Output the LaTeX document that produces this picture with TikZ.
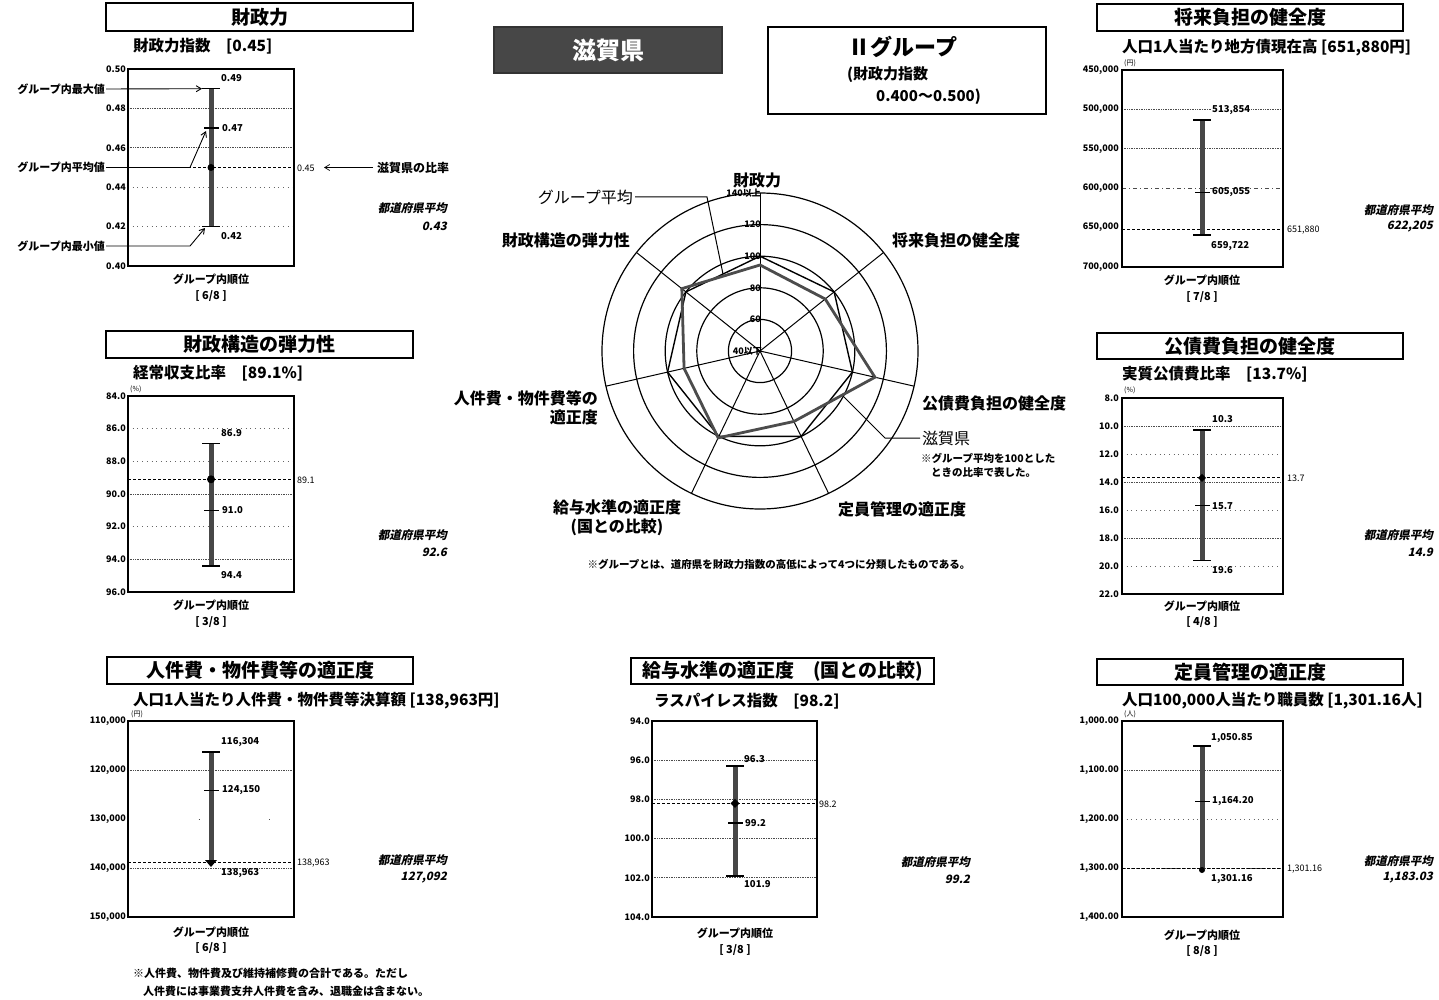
\documentclass[tikz,border=0pt]{standalone}
\usepackage{fontspec}
\setmainfont{Noto Sans CJK JP}
\newfontfamily\jpslant{Noto Sans CJK JP}[FakeSlant=0.22]
\usetikzlibrary{arrows.meta}
\newcommand\jfs[1]{\fontsize{#1}{#1}\selectfont}
\begin{document}
\begin{tikzpicture}[x=1pt,y=-1pt,
  ttlbox/.style={draw, line width=1.3pt, inner sep=0pt, font=\jfs{19}\bfseries},
  subttl/.style={anchor=west, inner sep=0pt, font=\jfs{15.5}\bfseries},
  ytick/.style={anchor=east, inner sep=1pt, font=\jfs{9}\bfseries},
  vlab/.style={anchor=west, inner sep=0pt, font=\jfs{9.5}\bfseries},
  frm/.style={draw, line width=1.6pt},
  gridl/.style={densely dotted, line width=0.7pt, black!70},
  grids/.style={loosely dotted, line width=0.7pt, black!60},
  shigal/.style={dash pattern=on 3pt off 2pt, line width=0.9pt},
  rbar/.style={line width=5pt, black!72},
  capl/.style={line width=1.6pt},
  meanl/.style={line width=1.2pt},
  avgt/.style={anchor=east, inner sep=0pt, font=\jfs{11.5}\jpslant\bfseries},
  rank/.style={inner sep=0pt, font=\jfs{11}\bfseries},
  unitl/.style={anchor=south west, inner sep=0pt, font=\jfs{7}},
  annl/.style={anchor=east, inner sep=1pt, font=\jfs{11}\bfseries},
  rtick/.style={anchor=east, inner sep=1pt, font=\jfs{9}\bfseries},
  rlab/.style={inner sep=0pt, font=\jfs{16}\bfseries},
  tipb/.style={-{Straight Barb[length=5pt,width=6pt]}, line width=0.9pt}
]
\fill[white] (0,0) rectangle (1439,1000);
\useasboundingbox (0,0) rectangle (1439,1000);

% ================= Header =================
\node[draw=black!80, line width=1.2pt, fill=black!72, minimum width=228pt, minimum height=46pt, inner sep=0pt,
      text=white, font=\jfs{24}\bfseries] (hpref) at (608,50) {滋賀県};
\node[draw, line width=1.2pt, minimum width=278pt, minimum height=87pt, inner sep=0pt] (hgrp) at (907,70.5) {};
\node[inner sep=0pt, font=\jfs{22}\bfseries] (hgrpt) at (903,47) {Ⅱグループ};
\node[anchor=west, inner sep=0pt, font=\jfs{15}\bfseries] (hgrp1) at (847,75) {(財政力指数};
\node[anchor=west, inner sep=0pt, font=\jfs{15}\bfseries] (hgrp2) at (876,97) {0.400～0.500)};

% ================= Panel A : 財政力 =================
\node[ttlbox, minimum width=307pt, minimum height=28pt] (tA) at (259.5,17) {財政力};
\node[subttl] (sA) at (133,46) {財政力指数　[0.45]};
\draw[gridl] (128,108.4) -- (294,108.4);
\draw[gridl] (128,147.8) -- (294,147.8);
\draw[grids] (128,187.2) -- (294,187.2);
\draw[grids] (128,226.6) -- (294,226.6);
\draw[shigal] (128,167.5) -- (294,167.5);
\draw[rbar] (211,88.7) -- (211,226.6);
\draw[capl] (202,88.7) -- (220,88.7);
\draw[capl] (202,226.6) -- (220,226.6);
\draw[meanl] (204,128.1) -- (219,128.1);
\fill (211,167.5) circle (3.5pt);
\draw[frm] (128,69) rectangle (294,266);
\node[ytick] (yA0) at (127,69) {0.50};
\node[ytick] (yA1) at (127,108.4) {0.48};
\node[ytick] (yA2) at (127,147.8) {0.46};
\node[ytick] (yA3) at (127,187.2) {0.44};
\node[ytick] (yA4) at (127,226.6) {0.42};
\node[ytick] (yA5) at (127,266) {0.40};
\node[vlab] (vA1) at (221,78) {0.49};
\node[vlab] (vA2) at (222,128) {0.47};
\node[vlab] (vA3) at (221,236) {0.42};
\node[anchor=west, inner sep=0pt, font=\jfs{9}] (vA4) at (297,168) {0.45};
\node[annl] (gmax) at (106,89) {グループ内最大値};
\node[annl] (gave) at (106,167.5) {グループ内平均値};
\node[annl] (gmin) at (106,246) {グループ内最小値};
\coordinate (pAmax) at (202,88.7);
\coordinate (pAave) at (206,131);
\coordinate (pAmin) at (205,228);
\draw[tipb] (gmax.east) -- (pAmax);
\draw[tipb] (gave.east) -- (190,167.5) -- (pAave);
\draw[tipb] (gmin.east) -- (190,246) -- (pAmin);
\node[anchor=west, inner sep=0pt, font=\jfs{12}\bfseries] (shr) at (377,167.5) {滋賀県の比率};
\coordinate (pAshr) at (324,167.5);
\draw[tipb, line width=0.7pt] (shr.west) ++(-4,0) -- (pAshr);
\node[avgt] (aA1) at (447,208) {都道府県平均};
\node[avgt] (aA2) at (447,226) {0.43};
\node[rank] (rA1) at (211,279) {グループ内順位};
\node[rank] (rA2) at (211,296) {[ 6/8 ]};

% ================= Panel B : 財政構造の弾力性 =================
\node[ttlbox, minimum width=307pt, minimum height=27pt] (tB) at (259.5,344.5) {財政構造の弾力性};
\node[subttl] (sB) at (133,373) {経常収支比率　[89.1\%]};
\node[unitl] (uB) at (130,393) {(\%)};
\draw[grids] (128,428.7) -- (294,428.7);
\draw[grids] (128,461.3) -- (294,461.3);
\draw[gridl] (128,494) -- (294,494);
\draw[grids] (128,526.7) -- (294,526.7);
\draw[gridl] (128,559.3) -- (294,559.3);
\draw[shigal] (128,479.3) -- (294,479.3);
\draw[rbar] (211,443.4) -- (211,565.9);
\draw[capl] (202,443.4) -- (220,443.4);
\draw[capl] (202,565.9) -- (220,565.9);
\draw[meanl] (204,510.3) -- (219,510.3);
\fill (211,479.3) circle (4pt);
\draw[frm] (128,396) rectangle (294,592);
\node[ytick] (yB0) at (127,396) {84.0};
\node[ytick] (yB1) at (127,428.7) {86.0};
\node[ytick] (yB2) at (127,461.3) {88.0};
\node[ytick] (yB3) at (127,494) {90.0};
\node[ytick] (yB4) at (127,526.7) {92.0};
\node[ytick] (yB5) at (127,559.3) {94.0};
\node[ytick] (yB6) at (127,592) {96.0};
\node[vlab] (vB1) at (221,433) {86.9};
\node[vlab] (vB2) at (222,510) {91.0};
\node[vlab] (vB3) at (221,575) {94.4};
\node[anchor=west, inner sep=0pt, font=\jfs{9}] (vB4) at (297,480) {89.1};
\node[avgt] (aB1) at (447,535) {都道府県平均};
\node[avgt] (aB2) at (447,552) {92.6};
\node[rank] (rB1) at (211,605) {グループ内順位};
\node[rank] (rB2) at (211,622) {[ 3/8 ]};

% ================= Panel C : 人件費・物件費等の適正度 =================
\node[ttlbox, minimum width=306pt, minimum height=27pt] (tC) at (260,670.5) {人件費・物件費等の適正度};
\node[subttl] (sC) at (133,701) {人口1人当たり人件費・物件費等決算額 [138,963円]};
\node[unitl] (uC) at (131,718) {(円)};
\draw[gridl] (128,770) -- (294,770);
\draw[gridl, dash pattern=on 0.7pt off 70pt] (128,819) -- (294,819);
\draw[gridl] (128,868) -- (294,868);
\draw[shigal] (128,862.9) -- (294,862.9);
\draw[rbar] (211,751.9) -- (211,862.9);
\draw[capl] (202,751.9) -- (220,751.9);
\draw[meanl] (204,790.3) -- (219,790.3);
\fill (205,860) -- (217,860) -- (211,867) -- cycle;
\draw[frm] (128,721) rectangle (294,917);
\node[ytick] (yC0) at (127,721) {110,000};
\node[ytick] (yC1) at (127,770) {120,000};
\node[ytick] (yC2) at (127,819) {130,000};
\node[ytick] (yC3) at (127,868) {140,000};
\node[ytick] (yC4) at (127,917) {150,000};
\node[vlab] (vC1) at (221,742) {116,304};
\node[vlab] (vC2) at (222,790) {124,150};
\node[vlab] (vC3) at (221,873) {138,963};
\node[anchor=west, inner sep=0pt, font=\jfs{9}] (vC4) at (297,863) {138,963};
\node[avgt] (aC1) at (447,860) {都道府県平均};
\node[avgt] (aC2) at (447,878) {127,092};
\node[rank] (rC1) at (211,932) {グループ内順位};
\node[rank] (rC2) at (211,948) {[ 6/8 ]};
\node[anchor=west, inner sep=0pt, font=\jfs{11}\bfseries] (nC1) at (133,973) {※人件費、物件費及び維持補修費の合計である。ただし};
\node[anchor=west, inner sep=0pt, font=\jfs{11}\bfseries] (nC2) at (143,991) {人件費には事業費支弁人件費を含み、退職金は含まない。};

% ================= Panel D : 給与水準の適正度 =================
\node[ttlbox, minimum width=303pt, minimum height=26pt] (tD) at (782.5,671) {給与水準の適正度　(国との比較)};
\node[subttl] (sD) at (654,701) {ラスパイレス指数　[98.2]};
\draw[gridl] (652,760.2) -- (817,760.2);
\draw[gridl] (652,799.4) -- (817,799.4);
\draw[gridl] (652,838.6) -- (817,838.6);
\draw[gridl] (652,877.8) -- (817,877.8);
\draw[shigal] (652,803.3) -- (817,803.3);
\draw[rbar] (735,766.1) -- (735,875.8);
\draw[capl] (726,766.1) -- (744,766.1);
\draw[capl] (726,875.8) -- (744,875.8);
\draw[meanl] (728,822.9) -- (743,822.9);
\fill (735,798.8) -- (739.5,803.3) -- (735,807.8) -- (730.5,803.3) -- cycle;
\draw[frm] (652,721) rectangle (817,917);
\node[ytick] (yD0) at (651,721) {94.0};
\node[ytick] (yD1) at (651,760.2) {96.0};
\node[ytick] (yD2) at (651,799.4) {98.0};
\node[ytick] (yD3) at (651,838.6) {100.0};
\node[ytick] (yD4) at (651,877.8) {102.0};
\node[ytick] (yD5) at (651,917) {104.0};
\node[vlab] (vD1) at (744,759) {96.3};
\node[vlab] (vD2) at (745,823) {99.2};
\node[vlab] (vD3) at (744,884) {101.9};
\node[anchor=west, inner sep=0pt, font=\jfs{9}] (vD4) at (819,804) {98.2};
\node[avgt] (aD1) at (970,862) {都道府県平均};
\node[avgt] (aD2) at (970,879) {99.2};
\node[rank] (rD1) at (735,933) {グループ内順位};
\node[rank] (rD2) at (735,950) {[ 3/8 ]};

% ================= Panel E : 将来負担の健全度 =================
\node[ttlbox, minimum width=306pt, minimum height=27pt] (tE) at (1250,17.5) {将来負担の健全度};
\node[subttl] (sE) at (1122,48) {人口1人当たり地方債現在高 [651,880円]};
\node[unitl] (uE) at (1124,67) {(円)};
\draw[gridl] (1122,109.4) -- (1283,109.4);
\draw[gridl] (1122,148.8) -- (1283,148.8);
\draw[gridl, dash pattern=on 4pt off 3pt on 1pt off 3pt] (1122,188.2) -- (1283,188.2);
\draw[shigal] (1122,229.1) -- (1283,229.1);
\draw[rbar] (1202,120.3) -- (1202,235.3);
\draw[capl] (1193,120.3) -- (1211,120.3);
\draw[capl] (1193,235.3) -- (1211,235.3);
\draw[meanl] (1195,192.2) -- (1210,192.2);
\draw[frm] (1122,70) rectangle (1283,267);
\node[ytick] (yE0) at (1120,70) {450,000};
\node[ytick] (yE1) at (1120,109.4) {500,000};
\node[ytick] (yE2) at (1120,148.8) {550,000};
\node[ytick] (yE3) at (1120,188.2) {600,000};
\node[ytick] (yE4) at (1120,227.6) {650,000};
\node[ytick] (yE5) at (1120,267) {700,000};
\node[vlab, fill=white, inner sep=1pt] (vE1) at (1211,110) {513,854};
\node[vlab] (vE2) at (1212,192) {605,055};
\node[vlab] (vE3) at (1211,246) {659,722};
\node[anchor=west, inner sep=0pt, font=\jfs{9}] (vE4) at (1287,230) {651,880};
\node[avgt] (aE1) at (1433,210) {都道府県平均};
\node[avgt] (aE2) at (1433,227) {622,205};
\node[rank] (rE1) at (1202,280) {グループ内順位};
\node[rank] (rE2) at (1202,297) {[ 7/8 ]};

% ================= Panel F : 公債費負担の健全度 =================
\node[ttlbox, minimum width=306pt, minimum height=26pt] (tF) at (1250,346) {公債費負担の健全度};
\node[subttl] (sF) at (1122,374) {実質公債費比率　[13.7\%]};
\node[unitl] (uF) at (1124,394) {(\%)};
\draw[gridl] (1122,426) -- (1283,426);
\draw[grids] (1122,454) -- (1283,454);
\draw[gridl] (1122,482) -- (1283,482);
\draw[grids] (1122,510) -- (1283,510);
\draw[gridl] (1122,538) -- (1283,538);
\draw[grids] (1122,566) -- (1283,566);
\draw[shigal] (1122,477.8) -- (1283,477.8);
\draw[rbar] (1202,430.2) -- (1202,560.4);
\draw[capl] (1193,430.2) -- (1211,430.2);
\draw[capl] (1193,560.4) -- (1211,560.4);
\draw[meanl] (1195,505.8) -- (1210,505.8);
\fill (1202,473.8) -- (1206,477.8) -- (1202,481.8) -- (1198,477.8) -- cycle;
\draw[frm] (1122,398) rectangle (1283,594);
\node[ytick] (yF0) at (1120,398) {8.0};
\node[ytick] (yF1) at (1120,426) {10.0};
\node[ytick] (yF2) at (1120,454) {12.0};
\node[ytick] (yF3) at (1120,482) {14.0};
\node[ytick] (yF4) at (1120,510) {16.0};
\node[ytick] (yF5) at (1120,538) {18.0};
\node[ytick] (yF6) at (1120,566) {20.0};
\node[ytick] (yF7) at (1120,594) {22.0};
\node[vlab] (vF1) at (1212,419) {10.3};
\node[vlab] (vF2) at (1212,506) {15.7};
\node[vlab] (vF3) at (1212,570) {19.6};
\node[anchor=west, inner sep=0pt, font=\jfs{9}] (vF4) at (1287,478) {13.7};
\node[avgt] (aF1) at (1433,535) {都道府県平均};
\node[avgt] (aF2) at (1433,552) {14.9};
\node[rank] (rF1) at (1202,606) {グループ内順位};
\node[rank] (rF2) at (1202,622) {[ 4/8 ]};

% ================= Panel G : 定員管理の適正度 =================
\node[ttlbox, minimum width=306pt, minimum height=26pt] (tG) at (1250,672) {定員管理の適正度};
\node[subttl] (sG) at (1122,701) {人口100,000人当たり職員数 [1,301.16人]};
\node[unitl] (uG) at (1124,718) {(人)};
\draw[gridl] (1122,770) -- (1283,770);
\draw[grids] (1122,819) -- (1283,819);
\draw[gridl] (1122,868) -- (1283,868);
\draw[shigal] (1122,868.6) -- (1283,868.6);
\draw[rbar] (1202,745.9) -- (1202,868.6);
\draw[capl] (1193,745.9) -- (1211,745.9);
\draw[meanl] (1195,801.5) -- (1210,801.5);
\fill (1202,870) circle (3pt);
\draw[frm] (1122,721) rectangle (1283,917);
\node[ytick] (yG0) at (1120,721) {1,000.00};
\node[ytick] (yG1) at (1120,770) {1,100.00};
\node[ytick] (yG2) at (1120,819) {1,200.00};
\node[ytick] (yG3) at (1120,868) {1,300.00};
\node[ytick] (yG4) at (1120,917) {1,400.00};
\node[vlab] (vG1) at (1211,738) {1,050.85};
\node[vlab] (vG2) at (1212,801) {1,164.20};
\node[vlab] (vG3) at (1211,879) {1,301.16};
\node[anchor=west, inner sep=0pt, font=\jfs{9}] (vG4) at (1287,869) {1,301.16};
\node[avgt] (aG1) at (1433,861) {都道府県平均};
\node[avgt] (aG2) at (1433,878) {1,183.03};
\node[rank] (rG1) at (1202,935) {グループ内順位};
\node[rank] (rG2) at (1202,951) {[ 8/8 ]};

% ================= Radar chart =================
\begin{scope}[shift={(760,351)}]
  \foreach \r in {31.6,63.2,94.8,126.4,158} \draw[line width=1.2pt] (0,0) circle (\r pt);
  \foreach \k in {0,...,6} \draw[line width=1pt] (0,0) -- ({-90+\k*360/7}:158);
  % group average (100)
  \draw[line width=1.4pt] (-90:94.8)
     \foreach \k in {1,...,6} { -- ({-90+\k*360/7}:94.8) } -- cycle;
  % Shiga
  \draw[line width=2.8pt, black!70] (-90:86)
     -- ({-90+1*360/7}:83.4) -- ({-90+2*360/7}:117.9) -- ({-90+3*360/7}:78.2)
     -- ({-90+4*360/7}:96.4) -- ({-90+5*360/7}:77.9) -- ({-90+6*360/7}:100) -- cycle;
  \node[rtick] (rt140) at (2,-158) {140以上};
  \node[rtick] (rt120) at (2,-126.4) {120};
  \node[rtick] (rt100) at (2,-94.8) {100};
  \node[rtick] (rt80) at (2,-63.2) {80};
  \node[rtick] (rt60) at (2,-31.6) {60};
  \node[rtick] (rt40) at (3,0) {40以下};
\end{scope}
\node[rlab] (rl1) at (757,180) {財政力};
\node[rlab, anchor=west] (rl2) at (892,240) {将来負担の健全度};
\node[rlab, anchor=west] (rl3) at (922,403) {公債費負担の健全度};
\node[rlab, anchor=west] (rl4) at (838,509) {定員管理の適正度};
\node[rlab, align=center] (rl5) at (617,518) {給与水準の適正度\\[3pt](国との比較)};
\node[rlab, align=right, anchor=east] (rl6) at (598,408) {人件費・物件費等の\\[3pt]適正度};
\node[rlab, anchor=east] (rl7) at (630,240) {財政構造の弾力性};
\node[rlab, anchor=east, font=\jfs{16}] (lgave) at (633,197) {グループ平均};
\coordinate (pgave) at (723,274);
\draw[line width=1pt] (lgave.east) ++(2,0) -- (707,197) -- (pgave);
\node[rlab, anchor=west, font=\jfs{16}] (lshiga) at (922,438) {滋賀県};
\coordinate (pshiga) at (843,396);
\draw[line width=1pt] (lshiga.west) ++(-2,0) -- (885,438) -- (pshiga);
\node[anchor=west, inner sep=0pt, font=\jfs{10.5}\bfseries] (lnote1) at (921,458) {※グループ平均を100とした};
\node[anchor=west, inner sep=0pt, font=\jfs{10.5}\bfseries] (lnote2) at (931,473) {ときの比率で表した。};
\node[inner sep=0pt, font=\jfs{10.5}\bfseries] (foot) at (779,564) {※グループとは、道府県を財政力指数の高低によって4つに分類したものである。};
\end{tikzpicture}
\end{document}
